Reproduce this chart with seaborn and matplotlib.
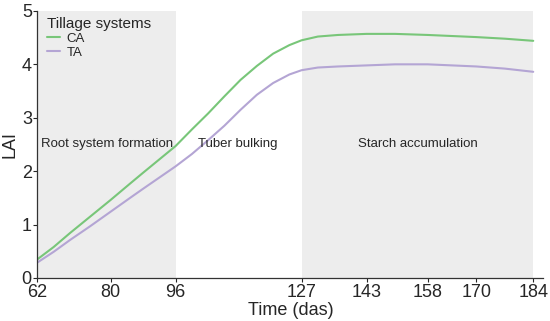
import numpy as np
import pandas as pd
import matplotlib
matplotlib.use("Agg")
import matplotlib.pyplot as plt
import seaborn as sns

# LAI
days = [62, 66, 70, 75, 80, 85, 88, 92, 96, 100, 104, 108, 112, 116, 120, 124,
        127, 131, 136, 143, 150, 158, 164, 170, 177, 184]
lai_ca = [0.35, 0.58, 0.84, 1.15, 1.46, 1.78, 1.97, 2.22, 2.47, 2.78, 3.08, 3.40,
          3.71, 3.97, 4.20, 4.36, 4.45, 4.52, 4.55, 4.57, 4.57, 4.55, 4.53, 4.51,
          4.48, 4.44]
lai_ta = [0.29, 0.49, 0.71, 0.97, 1.24, 1.51, 1.67, 1.88, 2.09, 2.32, 2.58, 2.85,
          3.15, 3.43, 3.65, 3.81, 3.89, 3.94, 3.96, 3.98, 4.00, 4.00, 3.98, 3.96,
          3.92, 3.86]
xticks = [62, 80, 96, 127, 143, 158, 170, 184]
stages = ["Root system formation", "Tuber bulking", "Starch accumulation"]
shaded = [(62, 96), (127, 184)]

df = pd.DataFrame({
    "day": days * 2,
    "LAI": lai_ca + lai_ta,
    "system": ["CA"] * len(days) + ["TA"] * len(days),
})

sns.set_style("ticks")
plt.rcParams["font.family"] = ["Liberation Sans", "DejaVu Sans"]

fig = plt.figure(figsize=(5.5, 3.21), dpi=100)
ax = fig.add_axes([0.068, 0.134, 0.92, 0.832])

for a, b in shaded:
    ax.axvspan(a, b, color="#ededed", lw=0, zorder=0)

sns.lineplot(data=df, x="day", y="LAI", hue="system",
             palette={"CA": "#78c679", "TA": "#b4a5d4"}, lw=1.5, ax=ax)

ax.text(63, 2.5, stages[0], fontsize=9.5, va="center", ha="left")
ax.text(101.5, 2.5, stages[1], fontsize=9.5, va="center", ha="left")
ax.text(155.5, 2.5, stages[2], fontsize=9.5, va="center", ha="center")

ax.set_xlim(62, 186.5)
ax.set_ylim(0, 5)
ax.set_xticks(xticks)
ax.set_yticks([0, 1, 2, 3, 4, 5])
ax.tick_params(labelsize=13, length=3, width=0.8, pad=1)
ax.set_xlabel("Time (das)", fontsize=13, labelpad=1)
ax.set_ylabel("LAI", fontsize=13, labelpad=2)
sns.despine(ax=ax)
for s in ["left", "bottom"]:
    ax.spines[s].set_linewidth(0.9)
    ax.spines[s].set_color("#333333")

leg = ax.legend(title="Tillage systems", loc="upper left", frameon=False,
                fontsize=9.5, title_fontsize=11, handlelength=1.0,
                handletextpad=0.5, labelspacing=0.1, borderaxespad=0.3,
                bbox_to_anchor=(0.0, 1.01))
leg._legend_box.align = "left"

fig.savefig("out.png", dpi=100)
